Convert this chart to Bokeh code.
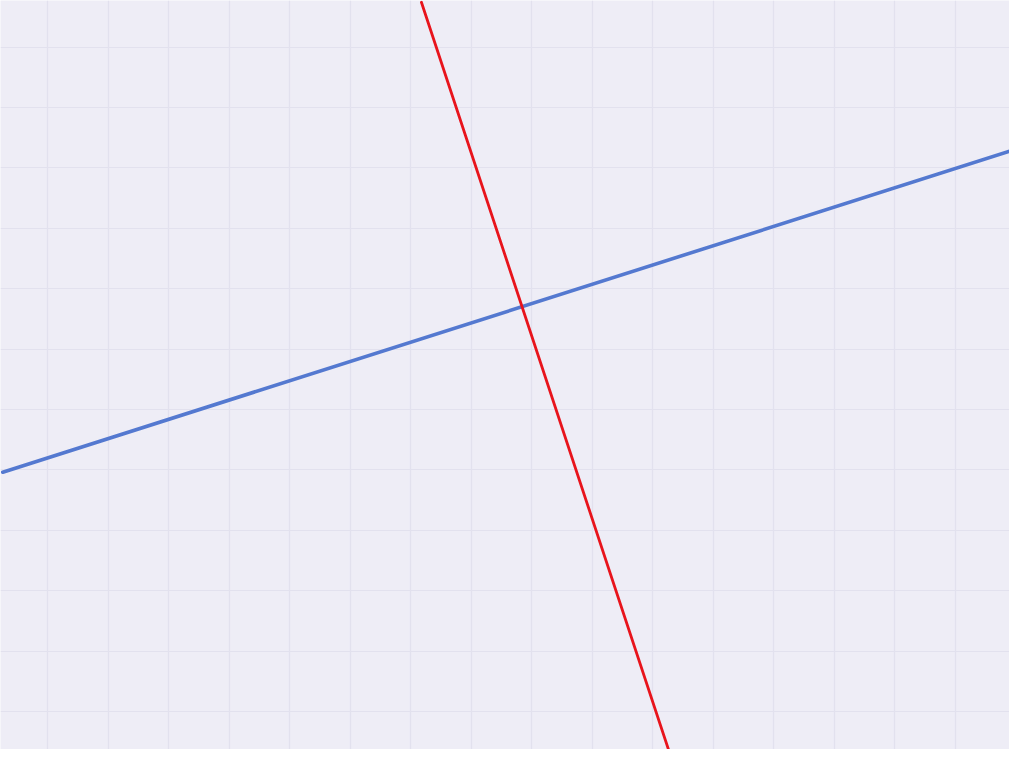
from bokeh.plotting import figure
from bokeh.models import Range1d, SingleIntervalTicker
from bokeh.embed import file_html
from bokeh.resources import INLINE

# Grid-unit coordinates (1 unit = one square of the paper)
blue_x = [-0.74, 15.95]
blue_y = [3.96, 9.29]
red_x = [6.18, 10.28]
red_y = [11.74, -0.68]

p = figure(width=1009, height=749, output_backend="svg", toolbar_location=None,
           x_range=Range1d(-0.777, 15.90), y_range=Range1d(-0.63, 11.77),
           min_border=0, min_border_left=0, min_border_right=0,
           min_border_top=0, min_border_bottom=0)
p.background_fill_color = "#eeedf6"
p.border_fill_color = "#eeedf6"
p.outline_line_color = None
p.xaxis.visible = False
p.yaxis.visible = False
p.xgrid.ticker = SingleIntervalTicker(interval=1)
p.ygrid.ticker = SingleIntervalTicker(interval=1)
for g in (p.xgrid, p.ygrid):
    g.grid_line_color = "#e2e1ee"
    g.grid_line_width = 1.2
    g.grid_line_alpha = 1.0

p.line(blue_x, blue_y, line_color="#5479d0", line_width=3.6, line_cap="round")
p.line(red_x, red_y, line_color="#e8141c", line_width=2.8, line_cap="round")

open("out.html", "w").write(file_html(p, INLINE))
